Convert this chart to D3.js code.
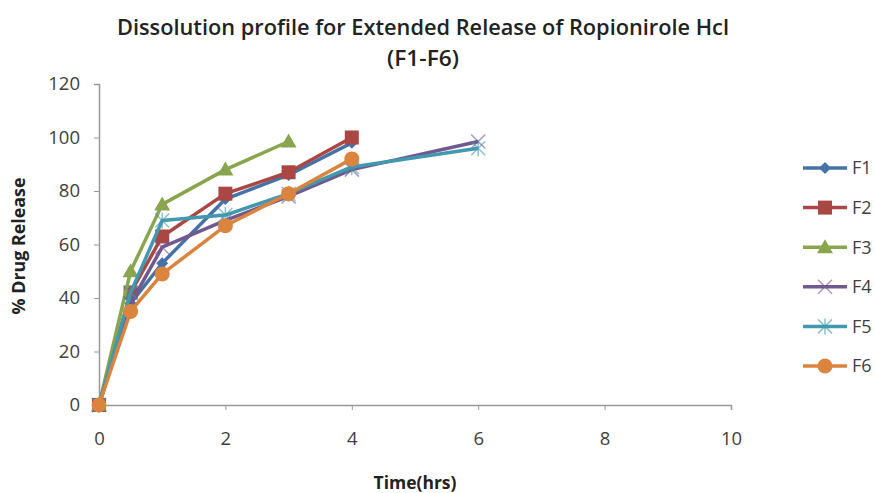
<!DOCTYPE html>
<html>
<head>
<meta charset="utf-8">
<script src="https://cdn.jsdelivr.net/npm/d3@7"></script>
<style>
  body { margin: 0; background: #fff; }
  text { font-family: "Open Sans", "Liberation Sans", sans-serif; fill: #222; }
  .axis path, .axis line { stroke: #999; }
  .axis text { font-size: 18.5px; fill: #404040; }
</style>
</head>
<body>
<svg id="chart" width="875" height="493"></svg>
<script>
const series = ["F1", "F2", "F3", "F4", "F5", "F6"];
const colors = ["#4572A7", "#AA4643", "#89A54E", "#71588F", "#4198AF", "#DB843D"];
const symbols = ["diamond", "square", "triangle", "x", "star", "circle"];

const timeF1 = [0, 0.5, 1, 2, 3, 4];
const F1 = [0, 38, 53, 77, 86, 98];
const timeF2 = [0, 0.5, 1, 2, 3, 4];
const F2 = [0, 42, 63, 79, 87, 100];
const timeF3 = [0, 0.5, 1, 2, 3];
const F3 = [0, 50, 75, 88, 98.5];
const timeF4 = [0, 0.5, 1, 2, 3, 4, 6];
const F4 = [0, 38, 59, 69, 78, 88, 98.5];
const timeF5 = [0, 0.5, 1, 2, 3, 4, 6];
const F5 = [0, 42, 69, 71, 79, 89, 96];
const timeF6 = [0, 0.5, 1, 2, 3, 4];
const F6 = [0, 35, 49, 67, 79, 92];

const xTicks = [0, 2, 4, 6, 8, 10];
const yTicks = [0, 20, 40, 60, 80, 100, 120];

const times = [timeF1, timeF2, timeF3, timeF4, timeF5, timeF6];
const values = [F1, F2, F3, F4, F5, F6];

const data = series.map((name, i) => ({
  name: name,
  color: colors[i],
  symbol: symbols[i],
  points: times[i].map((t, j) => ({t: t, v: values[i][j]}))
}));

const svg = d3.select("#chart"),
  margin = {top: 84, right: 144, bottom: 88, left: 99},
  width = +svg.attr("width") - margin.left - margin.right,
  height = +svg.attr("height") - margin.top - margin.bottom;

const x = d3.scaleLinear().domain([0, 10]).range([0, width]);
const y = d3.scaleLinear().domain([0, 120]).range([height, 0]);

const g = svg.append("g")
  .attr("transform", "translate(" + margin.left + "," + margin.top + ")");

g.append("g")
  .attr("class", "axis axis--x")
  .attr("transform", "translate(0," + height + ")")
  .call(d3.axisBottom(x).tickValues(xTicks).tickSize(5).tickSizeOuter(5).tickPadding(22))
  .select(".domain").attr("stroke-width", 1.5);

g.append("g")
  .attr("class", "axis axis--y")
  .call(d3.axisLeft(y).tickValues(yTicks).tickSize(5).tickSizeOuter(5).tickPadding(14))
  .select(".domain").attr("stroke-width", 1.5);

const line = d3.line()
  .x(d => x(d.t))
  .y(d => y(d.v));

function drawMarker(sel, s, color) {
  if (s === "diamond") {
    sel.append("path").attr("d", "M0,-6L6,0L0,6L-6,0Z").attr("fill", color);
  } else if (s === "square") {
    sel.append("rect").attr("x", -7).attr("y", -7).attr("width", 14).attr("height", 14).attr("fill", color);
  } else if (s === "triangle") {
    sel.append("path").attr("d", "M0,-8L8,6L-8,6Z").attr("fill", color);
  } else if (s === "x") {
    sel.append("path").attr("d", "M-7,-7L7,7M-7,7L7,-7").attr("stroke", color).attr("stroke-width", 1.5).attr("opacity", 0.6);
  } else if (s === "star") {
    sel.append("path").attr("d", "M-7,-7L7,7M-7,7L7,-7M0,-8L0,8").attr("stroke", color).attr("stroke-width", 1.5).attr("opacity", 0.6);
  } else {
    sel.append("circle").attr("r", 7.5).attr("fill", color);
  }
}

const layer = g.selectAll(".series")
  .data(data)
  .enter().append("g")
  .attr("class", "series");

layer.append("path")
  .attr("fill", "none")
  .attr("stroke", d => d.color)
  .attr("stroke-width", 3.5)
  .attr("stroke-linejoin", "round")
  .attr("d", d => line(d.points));

layer.each(function(d) {
  d3.select(this).selectAll(".pt")
    .data(d.points)
    .enter().append("g")
    .attr("class", "pt")
    .attr("transform", p => "translate(" + x(p.t) + "," + y(p.v) + ")")
    .each(function() { drawMarker(d3.select(this), d.symbol, d.color); });
});

// title
svg.append("text")
  .attr("x", 423).attr("y", 35)
  .attr("text-anchor", "middle")
  .style("font-size", "21px").style("font-weight", "600")
  .attr("textLength", 612).attr("lengthAdjust", "spacingAndGlyphs")
  .text("Dissolution profile for Extended Release of Ropionirole Hcl");
svg.append("text")
  .attr("x", 423).attr("y", 66)
  .attr("text-anchor", "middle")
  .style("font-size", "21px").style("font-weight", "600")
  .attr("textLength", 72).attr("lengthAdjust", "spacingAndGlyphs")
  .text("(F1-F6)");

// axis titles
svg.append("text")
  .attr("x", 415).attr("y", 489)
  .attr("text-anchor", "middle")
  .style("font-size", "17px").style("font-weight", "bold")
  .attr("textLength", 83).attr("lengthAdjust", "spacingAndGlyphs")
  .text("Time(hrs)");
svg.append("text")
  .attr("transform", "translate(25,246) rotate(-90)")
  .attr("text-anchor", "middle")
  .style("font-size", "17px").style("font-weight", "bold")
  .attr("textLength", 137).attr("lengthAdjust", "spacingAndGlyphs")
  .text("% Drug Release");

// legend
const legend = svg.append("g")
  .attr("transform", "translate(803,168)");

const item = legend.selectAll(".item")
  .data(data)
  .enter().append("g")
  .attr("class", "item")
  .attr("transform", (d, i) => "translate(0," + i * 39.6 + ")");

item.append("line")
  .attr("x1", 0).attr("x2", 44)
  .attr("stroke", d => d.color)
  .attr("stroke-width", 3.5);

item.append("g")
  .attr("transform", "translate(22,0)")
  .each(function(d) { drawMarker(d3.select(this), d.symbol, d.color); });

item.append("text")
  .attr("x", 49).attr("dy", "0.35em")
  .style("font-size", "18px").style("fill", "#404040")
  .text(d => d.name);
</script>
</body>
</html>
